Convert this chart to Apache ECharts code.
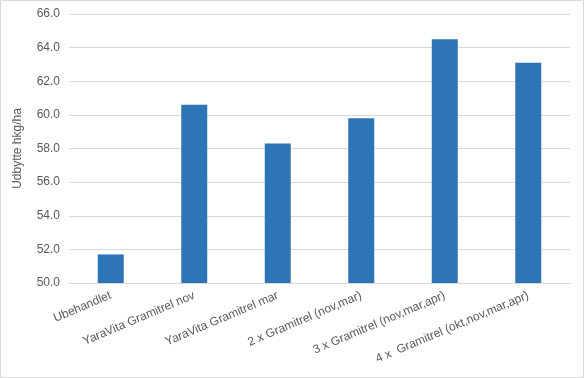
<!DOCTYPE html>
<html>
<head>
<meta charset="utf-8">
<script src="https://cdn.jsdelivr.net/npm/echarts@6/dist/echarts.min.js"></script>
<style>
  html, body { margin: 0; padding: 0; background: #fff; }
  #chart { width: 584px; height: 378px; }
</style>
</head>
<body>
<div id="chart"></div>
<script>
const categories = [
  'Ubehandlet',
  'YaraVita Gramitrel nov',
  'YaraVita Gramitrel mar',
  '2 x Gramitrel (nov,mar)',
  '3 x Gramitrel (nov,mar,apr)',
  '4 x  Gramitrel (okt,nov,mar,apr)'
];
const yieldValues = [51.7, 60.6, 58.3, 59.8, 64.5, 63.1];
const yAxisName = 'Udbytte hkg/ha';

const chart = echarts.init(document.getElementById('chart'));
const font = 'Liberation Sans, Arial, sans-serif';

const option = {
  animation: false,
  textStyle: { fontFamily: font },
  graphic: [{
    type: 'rect',
    shape: { x: 0.5, y: 0.5, width: 583, height: 377 },
    style: { fill: 'none', stroke: '#d9d9d9', lineWidth: 1 },
    silent: true
  }],
  grid: { left: 69, right: 14, top: 14, bottom: 95 },
  xAxis: {
    type: 'category',
    data: categories,
    axisLine: { lineStyle: { color: '#d9d9d9' } },
    axisTick: { show: false },
    axisLabel: {
      interval: 0,
      rotate: 23,
      margin: 12,
      color: '#595959',
      fontSize: 12,
      fontFamily: font
    }
  },
  yAxis: {
    type: 'value',
    min: 50,
    max: 66,
    interval: 2,
    name: yAxisName,
    nameLocation: 'middle',
    nameGap: 45,
    nameTextStyle: { color: '#595959', fontSize: 12, fontFamily: font },
    axisLine: { show: false },
    axisTick: { show: false },
    axisLabel: {
      margin: 9,
      color: '#595959',
      fontSize: 12,
      fontFamily: font,
      formatter: v => v.toFixed(1)
    },
    splitLine: { lineStyle: { color: '#d9d9d9' } }
  },
  series: [{
    type: 'bar',
    data: yieldValues,
    barWidth: 26,
    itemStyle: { color: '#2e75b6' }
  }]
};

chart.setOption(option);
</script>
</body>
</html>
